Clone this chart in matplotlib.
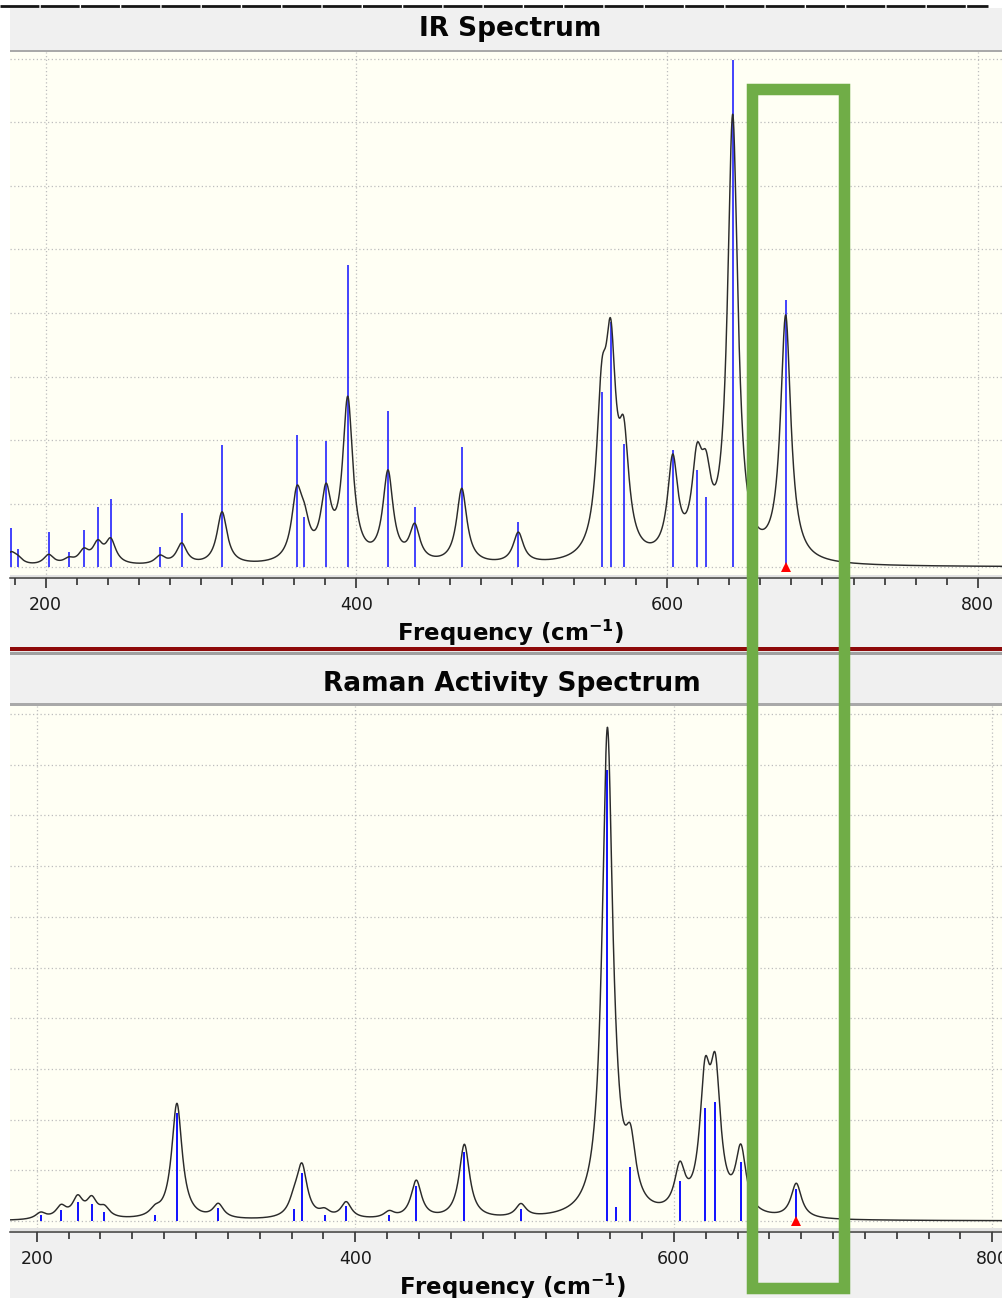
import numpy as np
import matplotlib
matplotlib.use("Agg")
import matplotlib.pyplot as plt
from matplotlib.patches import Rectangle
from matplotlib.lines import Line2D
from matplotlib.ticker import MultipleLocator

# ---------------- data ----------------
# IR: mode frequencies (cm-1), stick intensities and envelope height at each mode
ir_freq = [177.5, 182.0, 201.9, 214.8, 224.5, 233.5, 241.8, 273.6, 287.5, 313.5,
           361.6, 366.5, 380.4, 394.4, 420.3, 437.5, 467.8, 504.2, 557.9, 563.7,
           572.1, 603.6, 619.2, 625.0, 642.2, 676.3]
ir_stick = [61, 28, 55, 24, 58, 94, 107, 31, 85, 192,
            208, 79, 198, 476, 246, 94, 189, 71, 276, 386,
            194, 184, 153, 110, 798, 420]
ir_envelope = [24, 19, 20, 16, 30, 43, 46, 19, 38, 87,
               128, 101, 132, 269, 153, 69, 124, 55, 324, 391,
               236, 178, 195, 184, 713, 397]

# Raman: mode frequencies (cm-1) and activities
raman_freq = [202.5, 215.3, 225.7, 234.5, 242.5, 274.3, 288.0, 314.0, 361.6, 366.5,
              380.7, 394.3, 421.3, 438.3, 468.5, 504.0, 558.3, 563.8, 572.8, 603.8,
              619.6, 626.1, 642.1, 676.9]
raman_stick = [12, 22, 37, 34, 18, 12, 214, 26, 24, 94,
               12, 30, 12, 70, 137, 24, 890, 27, 106, 79,
               223, 234, 117, 64]
raman_curve_scale = 1.07
hwhm = 4.0

selected_ir = 676.3
selected_raman = 676.9

ir_title = "IR Spectrum"
raman_title = "Raman Activity Spectrum"
xlabel = r"Frequency (cm$^{\mathbf{-1}}$)"
major_ticks = [200, 400, 600, 800]

# ---------------- figure geometry (pixels) ----------------
W, H = 1003, 1298
fig = plt.figure(figsize=(W / 100, H / 100), dpi=100)
fig.patch.set_facecolor("white")


def fx(x):
    return x / W


def fy(y):
    return 1 - y / H


def frect(x0, y0, x1, y1, color, z=-1):
    fig.patches.append(Rectangle((fx(x0), fy(y1)), fx(x1) - fx(x0), fy(y0) - fy(y1),
                                 transform=fig.transFigure, facecolor=color,
                                 edgecolor="none", zorder=z))


def lor(x, x0, w):
    return 1.0 / (1.0 + ((x - x0) / w) ** 2)


plt.rcParams["mathtext.default"] = "bf"

IVORY = "#FFFFF4"
PANEL = "#F0F0F0"

# background chrome
fig.add_artist(Line2D([fx(0), fx(988)], [fy(6.3), fy(6.3)], transform=fig.transFigure,
                      color="#151515", lw=2.0, linestyle=(0, (14, 0.5)), zorder=-1))
frect(10, 8.3, W, 49.7, PANEL)
frect(10, 49.7, W, 52, "#A9A9A9")
frect(10, 574, W, 648, PANEL)
frect(10, 574.5, W, 577.3, "#E2E2E2", z=1)
frect(10, 647.3, W, 650.5, "#8E0A0A")
frect(10, 650.5, W, 651.7, "#E8E8E8")
frect(10, 651.7, W, 654.8, "#A0A0A0")
frect(10, 654.8, W, 703.3, PANEL)
frect(10, 703.3, W, 705.8, "#A9A9A9")
frect(10, 1228, W, H, PANEL)
frect(10, 1228.3, W, 1231, "#E2E2E2", z=1)


def make_axes(top, bottom, xlim, ylim, title, title_x, title_pad, label_x, label_y):
    ax = fig.add_axes([fx(10), fy(bottom), fx(W) - fx(10), fy(top) - fy(bottom)])
    ax.set_facecolor(IVORY)
    ax.set_xlim(*xlim)
    ax.set_ylim(*ylim)
    for s in ("left", "right", "top"):
        ax.spines[s].set_visible(False)
    ax.spines["bottom"].set_color("#3A3A3A")
    ax.spines["bottom"].set_linewidth(1.1)
    ax.set_xticks(major_ticks)
    ax.xaxis.set_minor_locator(MultipleLocator(20))
    ax.yaxis.set_major_locator(MultipleLocator(100))
    ax.tick_params(axis="x", which="major", direction="out", length=7.2, width=1.1,
                   color="#202020", labelsize=12.5, labelcolor="#1A1A1A", pad=6)
    ax.tick_params(axis="x", which="minor", direction="out", length=5.0, width=1.1,
                   color="#202020")
    ax.tick_params(axis="y", left=False, labelleft=False)
    ax.grid(True, which="major", axis="both", color="#BDBDBD", lw=0.9,
            linestyle=(0, (1, 2)))
    ax.set_axisbelow(True)
    ax.set_title(title, fontsize=19, fontweight="bold", color="#050505",
                 x=title_x, pad=title_pad)
    ax.set_xlabel(xlabel, fontsize=16.5, fontweight="bold", color="#050505")
    ax.xaxis.set_label_coords(label_x, label_y)
    ax.xaxis.label.set_verticalalignment("baseline")
    return ax


# ---------------- IR panel ----------------
ir_f = np.array(ir_freq)
ir_s = np.array(ir_stick, dtype=float)
ir_e = np.array(ir_envelope, dtype=float)
ax1 = make_axes(52, 578, (177.0, 816.2), (-17.3, 811.0), ir_title,
                (510.5 - 10) / 993, 11.5, (511 - 10) / 993, -(641 - 578) / 526)
M = lor(ir_f[:, None], ir_f[None, :], hwhm)
ir_amp = np.clip(np.linalg.solve(M, ir_e), 0, None)
xg1 = np.linspace(177.0, 816.2, 5000)
ir_curve = (ir_amp[None, :] * lor(xg1[:, None], ir_f[None, :], hwhm)).sum(axis=1)
ax1.vlines(ir_f, 0, ir_s, color="#1010FF", lw=1.1, zorder=2)
ax1.plot(xg1, ir_curve, color="#2B2B2B", lw=1.05, zorder=3)
ax1.plot([selected_ir], [0], marker="^", color="#FF0000", ms=6.5, mew=0,
         clip_on=False, zorder=4)

# ---------------- Raman panel ----------------
ra_f = np.array(raman_freq)
ra_s = np.array(raman_stick, dtype=float)
ax2 = make_axes(706, 1231.7, (183.2, 806.7), (-21.1, 1015.8), raman_title,
                (512 - 10) / 993, 11.0, (513 - 10) / 993, -(1295 - 1231.7) / 525.7)
xg2 = np.linspace(183.2, 806.7, 5000)
ra_curve = (raman_curve_scale * ra_s[None, :] * lor(xg2[:, None], ra_f[None, :], hwhm)).sum(axis=1)
ax2.vlines(ra_f, 0, ra_s, color="#1010FF", lw=1.4, zorder=2)
ax2.plot(xg2, ra_curve, color="#2B2B2B", lw=1.05, zorder=3)
ax2.plot([selected_raman], [0], marker="^", color="#FF0000", ms=6.5, mew=0,
         clip_on=False, zorder=4)

# ---------------- green highlight box ----------------
lw_px = 11.5
fig.patches.append(Rectangle((fx(752), fy(1287.5)), fx(844) - fx(752), fy(89) - fy(1287.5),
                             transform=fig.transFigure, facecolor="none",
                             edgecolor="#70AD47", lw=lw_px * 0.72, zorder=10,
                             joinstyle="miter"))

fig.savefig("out.png", dpi=100)
